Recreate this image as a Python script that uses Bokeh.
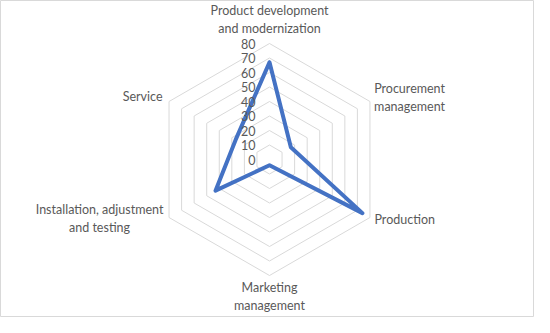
import numpy as np
from bokeh.plotting import figure
from bokeh.models import Range1d, ColumnDataSource
from bokeh.core.properties import value
from bokeh.embed import file_html
from bokeh.resources import INLINE

# ---- data ----
categories = ["Product development\nand modernization", "Procurement\nmanagement", "Production",
              "Marketing\nmanagement", "Installation, adjustment\nand testing", "Service"]
values = [67, 17, 74, 4, 43, 27]
ticks = [0, 10, 20, 30, 40, 50, 60, 70, 80]

# ---- styles ----
FONT = "Lato"
TXT = "#595959"
GRID = "#d9d9d9"
LINE = "#4472C4"
PX_PER_UNIT = 1.45

W, H = 534, 317
cx_px, cy_px = 269, 159  # centre of the radar in canvas pixels

n = len(categories)
angles = np.pi / 2 - np.arange(n) * 2 * np.pi / n

p = figure(width=W, height=H, output_backend="svg", toolbar_location=None,
           x_range=Range1d(-cx_px / PX_PER_UNIT, (W - cx_px) / PX_PER_UNIT),
           y_range=Range1d(-(H - cy_px) / PX_PER_UNIT, cy_px / PX_PER_UNIT),
           min_border=0, min_border_left=0, min_border_right=0,
           min_border_top=0, min_border_bottom=0)
p.axis.visible = False
p.grid.visible = False
p.outline_line_color = GRID
p.outline_line_width = 1
p.background_fill_color = "white"
p.border_fill_color = "white"

# hexagonal gridlines
for t in ticks[1:]:
    xs = list(t * np.cos(angles)) + [t * np.cos(angles[0])]
    ys = list(t * np.sin(angles)) + [t * np.sin(angles[0])]
    p.line(xs, ys, line_color=GRID, line_width=1)

# series
v = np.array(values, dtype=float)
sx = list(v * np.cos(angles)) + [v[0] * np.cos(angles[0])]
sy = list(v * np.sin(angles)) + [v[0] * np.sin(angles[0])]
p.line(sx, sy, line_color=LINE, line_width=4, line_join="round", line_cap="round")

# tick labels on the vertical axis
p.text(x=[-9.7] * len(ticks), y=ticks, text=[str(t) for t in ticks],
       text_align="right", text_baseline="middle", text_color=TXT,
       text_font=value(FONT), text_font_size="12.5px")

# category labels (positions in value units, alignment per label)
lab_x = [0, 96.6, 72.4, 0, -117.2, -73.8]
lab_y = [96.6, 42.8, -41.4, -94.5, -40.7, 43.4]
lab_align = ["center", "center", "left", "center", "center", "right"]
src = ColumnDataSource(dict(x=lab_x, y=lab_y, text=categories, align=lab_align))
p.text(x="x", y="y", text="text", source=src, text_align="align",
       text_baseline="middle", text_color=TXT, text_font=value(FONT),
       text_font_size="12.5px", text_line_height=1.25)

open("out.html", "w").write(file_html(p, INLINE))
